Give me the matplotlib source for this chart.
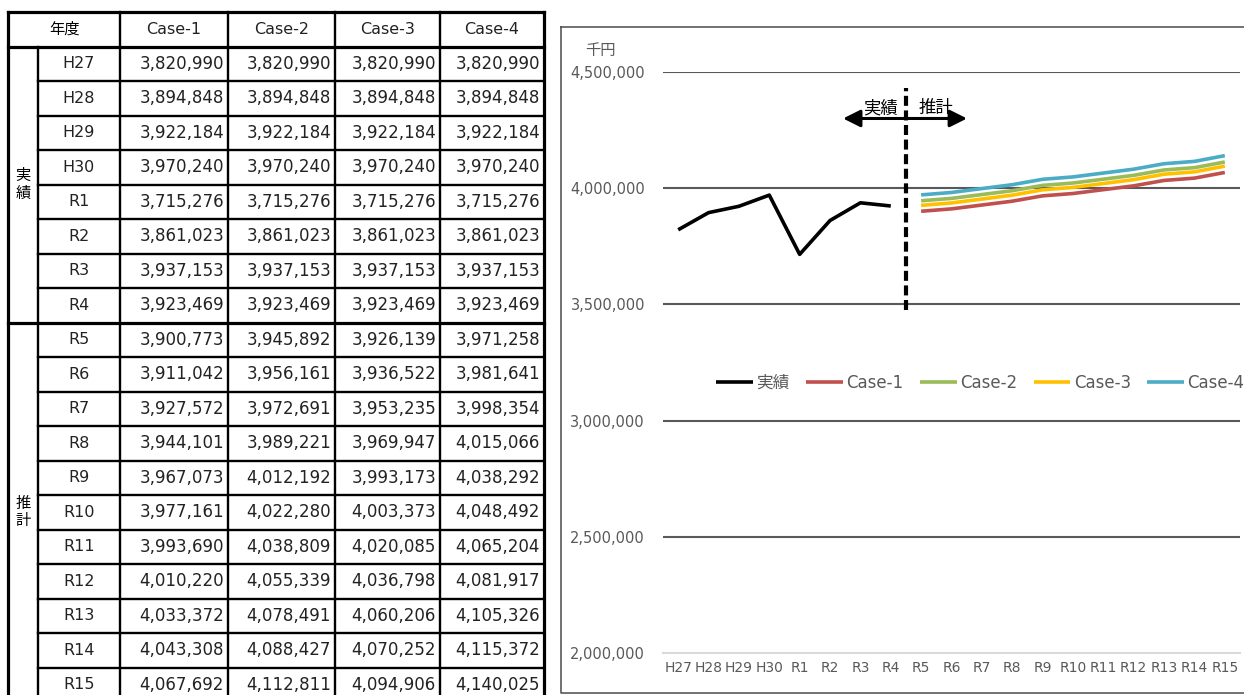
import matplotlib.pyplot as plt
from matplotlib.ticker import FuncFormatter

plt.rcParams['font.family'] = ['DejaVu Sans', 'Noto Sans CJK JP']

years = ['H27', 'H28', 'H29', 'H30', 'R1', 'R2', 'R3', 'R4', 'R5', 'R6', 'R7',
         'R8', 'R9', 'R10', 'R11', 'R12', 'R13', 'R14', 'R15']
actual = [3820990, 3894848, 3922184, 3970240, 3715276, 3861023, 3937153, 3923469]
case1 = [3900773, 3911042, 3927572, 3944101, 3967073, 3977161, 3993690, 4010220, 4033372, 4043308, 4067692]
case2 = [3945892, 3956161, 3972691, 3989221, 4012192, 4022280, 4038809, 4055339, 4078491, 4088427, 4112811]
case3 = [3926139, 3936522, 3953235, 3969947, 3993173, 4003373, 4020085, 4036798, 4060206, 4070252, 4094906]
case4 = [3971258, 3981641, 3998354, 4015066, 4038292, 4048492, 4065204, 4081917, 4105326, 4115372, 4140025]
case_names = ['Case-1', 'Case-2', 'Case-3', 'Case-4']
case_colors = ['#C0504D', '#9BBB59', '#FFC000', '#4BACC6']
group_names = ['実績', '推計']

cases = [case1, case2, case3, case4]
n_act = len(actual)

fig = plt.figure(figsize=(12.44, 6.95), dpi=100)

# ---- table, drawn in pixel coordinates ----
tab = fig.add_axes([0, 0, 1, 1])
tab.set_xlim(0, 1244)
tab.set_ylim(695, 0)
tab.axis('off')

cols = [8, 38, 120, 228, 335, 440, 544]
top = 12
rh = 34.5
n_rows = len(years) + 1
bottom = top + rh * n_rows
sep = top + rh * (1 + n_act)
lw_in, lw_out = 1.7, 2.3

# horizontal lines
tab.plot([cols[0], cols[-1]], [top, top], color='black', lw=lw_out)
tab.plot([cols[0], cols[-1]], [top + rh, top + rh], color='black', lw=lw_out)
tab.plot([cols[0], cols[-1]], [sep, sep], color='black', lw=lw_out)
for i in range(2, n_rows):
    y = top + rh * i
    if abs(y - sep) > 1:
        tab.plot([cols[1], cols[-1]], [y, y], color='black', lw=lw_in)
# vertical lines
for x in [cols[0], cols[-1]]:
    tab.plot([x, x], [top, bottom], color='black', lw=lw_out)
tab.plot([cols[1], cols[1]], [top + rh, bottom], color='black', lw=lw_in)
for x in cols[2:-1]:
    tab.plot([x, x], [top, bottom], color='black', lw=lw_in)

# header
tab.text((cols[0] + cols[2]) / 2, top + rh / 2, '年度', ha='center', va='center', fontsize=11)
for j, name in enumerate(case_names):
    tab.text((cols[j + 2] + cols[j + 3]) / 2, top + rh / 2, name,
             ha='center', va='center', fontsize=11.5, color='#222222')

# body
for i, yr in enumerate(years):
    yc = top + rh * (i + 1.5)
    tab.text((cols[1] + cols[2]) / 2, yc, yr, ha='center', va='center', fontsize=11.5,
             color='#222222')
    for j in range(4):
        if i < n_act:
            v = actual[i]
        else:
            v = cases[j][i - n_act]
        tab.text(cols[j + 3] - 4, yc, f'{v:,}', ha='right', va='center', fontsize=12,
                 color='#222222')

# group labels
tab.text((cols[0] + cols[1]) / 2, (top + rh + sep) / 2, '\n'.join(group_names[0]),
         ha='center', va='center', fontsize=11, linespacing=1.2)
tab.text((cols[0] + cols[1]) / 2, (sep + bottom) / 2, '\n'.join(group_names[1]),
         ha='center', va='center', fontsize=11, linespacing=1.2)

# chart frame
tab.plot([561, 1250, 1250, 561, 561], [27, 27, 693, 693, 27], color='#595959', lw=1.2)

# ---- chart ----
ax = fig.add_axes([663 / 1244, 42 / 695, 577 / 1244, 581 / 695])
ax.set_facecolor('none')
x = list(range(len(years)))
ax.plot(x[:n_act], actual, color='black', lw=2.6, label='実績', solid_capstyle='butt')
for name, vals, c in zip(case_names, cases, case_colors):
    ax.plot(x[n_act:], vals, color=c, lw=2.6, label=name, solid_capstyle='butt')

ax.set_xlim(-0.5, len(years) - 0.5)
ax.set_ylim(2000000, 4500000)
ax.set_yticks([2000000, 2500000, 3000000, 3500000, 4000000, 4500000])
ax.yaxis.set_major_formatter(FuncFormatter(lambda v, p: f'{int(v):,}'))
ax.set_xticks(x)
ax.set_xticklabels(years)
ax.tick_params(axis='both', length=0, colors='#595959', labelsize=10)
ax.tick_params(axis='y', pad=13, labelsize=10.5)
ax.tick_params(axis='x', pad=6)
for s in ['top', 'right', 'left']:
    ax.spines[s].set_visible(False)
ax.spines['bottom'].set_color('#d9d9d9')
ax.spines['bottom'].set_linewidth(1.5)
for v in [2500000, 3000000, 3500000, 4000000, 4500000]:
    ax.axhline(v, color='#595959', lw=1.5, zorder=0)

# actual / forecast divider
ax.plot([n_act - 0.5, n_act - 0.5], [3476000, 4430000], color='black', lw=3, dashes=(2.4, 1.1))
ax.annotate('', xy=(5.43, 4300000), xytext=(9.51, 4300000),
            arrowprops=dict(arrowstyle='<|-|>', color='black', lw=2.2,
                            mutation_scale=26, shrinkA=0, shrinkB=0))
ax.text(6.65, 4345000, group_names[0], ha='center', va='center', fontsize=12.5)
ax.text(8.5, 4345000, group_names[1], ha='center', va='center', fontsize=12.5)

fig.text(600 / 1244, 1 - 50 / 695, '千円', ha='center', va='center', fontsize=11, color='#595959')

ax.legend(loc='center', bbox_to_anchor=(0.55, 0.465), ncol=5, frameon=False,
          fontsize=12, labelcolor='#595959', handlelength=2.2, handletextpad=0.2,
          columnspacing=1.0)

fig.savefig('out.png', dpi=100)
